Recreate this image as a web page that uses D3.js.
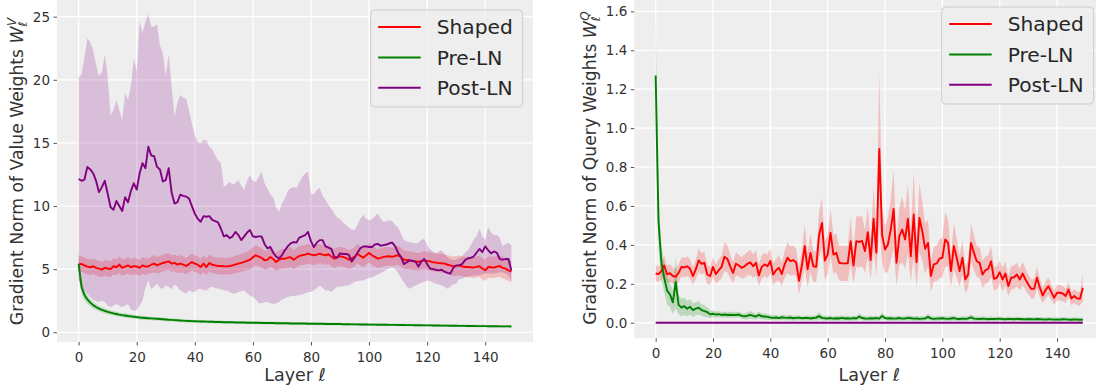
<!DOCTYPE html>
<html>
<head>
<meta charset="utf-8">
<script src="https://cdn.jsdelivr.net/npm/d3@7"></script>
<style>
  body { margin: 0; background: #fff; }
  svg { font-family: 'DejaVu Sans', sans-serif; }
</style>
</head>
<body>
<svg id="chart" width="1096" height="387"></svg>
<script>
// --- Data (one value per layer 0..149) ---
const seriesNames = ['Shaped', 'Pre-LN', 'Post-LN'];
const xTicks = [0, 20, 40, 60, 80, 100, 120, 140];
const yTicksV = [0, 5, 10, 15, 20, 25];
const yTicksQ = [0, 0.2, 0.4, 0.6, 0.8, 1.0, 1.2, 1.4, 1.6];

// Value weights: Shaped
const shapedV = [
  5.38, 5.42, 5.3, 5.2, 5.15, 5.23, 5.1, 5.04, 4.96, 5.1,
  5.05, 5.0, 5.23, 5.15, 5.36, 5.1, 5.2, 5.3, 5.15, 5.25,
  5.2, 5.1, 5.3, 5.2, 5.23, 5.35, 5.44, 5.3, 5.4, 5.49,
  5.55, 5.62, 5.44, 5.5, 5.36, 5.44, 5.35, 5.25, 5.4, 5.57,
  5.44, 5.35, 5.17, 5.44, 5.17, 5.49, 5.35, 5.3, 5.25, 5.25,
  5.23, 5.22, 5.25, 5.3, 5.38, 5.44, 5.5, 5.57, 5.65, 5.75,
  5.95, 6.1, 6.0, 5.9, 5.7, 5.75, 5.97, 5.8, 5.57, 5.75,
  5.83, 5.83, 5.9, 5.95, 5.75, 5.9, 6.05, 6.1, 6.15, 6.23,
  6.15, 6.1, 6.15, 6.23, 6.15, 6.1, 6.18, 6.0, 5.83, 5.95,
  6.02, 5.97, 5.9, 5.75, 5.85, 5.97, 6.23, 6.05, 5.91, 6.1,
  6.28, 6.1, 5.97, 5.83, 5.9, 5.97, 6.0, 6.02, 5.97, 6.05,
  6.1, 5.95, 5.75, 5.72, 5.7, 5.65, 5.62, 5.57, 5.65, 5.7,
  5.65, 5.62, 5.55, 5.52, 5.49, 5.47, 5.44, 5.35, 5.3, 5.23,
  5.26, 5.3, 5.22, 5.17, 5.17, 5.15, 5.12, 5.18, 5.23, 5.05,
  4.91, 5.17, 5.15, 5.12, 5.2, 5.25, 5.1, 5.04, 4.9, 4.8
];
const shapedVStd = [
  0.65, 0.62, 0.6, 0.62, 0.64, 0.6, 0.62, 0.63, 0.6, 0.62,
  0.64, 0.62, 0.65, 0.63, 0.66, 0.64, 0.62, 0.65, 0.64, 0.66,
  0.65, 0.63, 0.66, 0.64, 0.62, 0.66, 0.68, 0.65, 0.66, 0.67,
  0.68, 0.66, 0.65, 0.67, 0.66, 0.68, 0.66, 0.65, 0.67, 0.68,
  0.66, 0.65, 0.64, 0.66, 0.65, 0.67, 0.66, 0.65, 0.66, 0.67,
  0.66, 0.65, 0.67, 0.68, 0.68, 0.7, 0.7, 0.72, 0.74, 0.75,
  0.78, 0.8, 0.78, 0.76, 0.74, 0.75, 0.76, 0.75, 0.74, 0.75,
  0.76, 0.77, 0.78, 0.78, 0.76, 0.77, 0.78, 0.78, 0.78, 0.79,
  0.78, 0.77, 0.78, 0.77, 0.76, 0.76, 0.77, 0.76, 0.75, 0.76,
  0.76, 0.75, 0.74, 0.74, 0.75, 0.76, 0.77, 0.76, 0.75, 0.76,
  0.77, 0.76, 0.75, 0.74, 0.74, 0.75, 0.75, 0.74, 0.74, 0.75,
  0.75, 0.74, 0.73, 0.72, 0.72, 0.71, 0.7, 0.7, 0.7, 0.71,
  0.72, 0.72, 0.73, 0.73, 0.74, 0.75, 0.75, 0.76, 0.77, 0.78,
  0.78, 0.79, 0.8, 0.8, 0.81, 0.82, 0.82, 0.83, 0.84, 0.84,
  0.85, 0.86, 0.86, 0.85, 0.85, 0.86, 0.86, 0.85, 0.84, 0.82
];

// Value weights: Pre-LN
const preV = [
  5.4, 3.6, 2.95, 2.6, 2.35, 2.15, 2.0, 1.88, 1.78, 1.7,
  1.62, 1.56, 1.5, 1.45, 1.4, 1.36, 1.33, 1.29, 1.26, 1.23,
  1.2, 1.17, 1.15, 1.13, 1.11, 1.1, 1.08, 1.07, 1.05, 1.03,
  1.01, 0.99, 0.98, 0.96, 0.95, 0.93, 0.92, 0.9, 0.89, 0.88,
  0.87, 0.86, 0.85, 0.85, 0.84, 0.83, 0.83, 0.82, 0.81, 0.81,
  0.8, 0.8, 0.79, 0.79, 0.78, 0.78, 0.77, 0.77, 0.76, 0.76,
  0.75, 0.75, 0.75, 0.74, 0.74, 0.73, 0.73, 0.73, 0.72, 0.72,
  0.72, 0.71, 0.71, 0.7, 0.7, 0.7, 0.69, 0.69, 0.69, 0.68,
  0.68, 0.68, 0.67, 0.67, 0.67, 0.66, 0.66, 0.66, 0.65, 0.65,
  0.65, 0.64, 0.64, 0.64, 0.63, 0.63, 0.63, 0.62, 0.62, 0.62,
  0.61, 0.61, 0.61, 0.6, 0.6, 0.6, 0.6, 0.59, 0.59, 0.59,
  0.58, 0.58, 0.58, 0.57, 0.57, 0.57, 0.56, 0.56, 0.56, 0.55,
  0.55, 0.55, 0.54, 0.54, 0.54, 0.53, 0.53, 0.53, 0.52, 0.52,
  0.52, 0.51, 0.51, 0.51, 0.5, 0.5, 0.5, 0.49, 0.49, 0.49,
  0.49, 0.48, 0.48, 0.48, 0.48, 0.47, 0.47, 0.47, 0.47, 0.46
];
const preVStd = [
  1.2, 0.55, 0.4, 0.33, 0.29, 0.26, 0.24, 0.22, 0.21, 0.2,
  0.19, 0.19, 0.18, 0.18, 0.17, 0.17, 0.17, 0.16, 0.16, 0.16,
  0.15, 0.15, 0.15, 0.15, 0.14, 0.14, 0.14, 0.14, 0.14, 0.13,
  0.13, 0.13, 0.13, 0.13, 0.13, 0.13, 0.12, 0.12, 0.12, 0.12,
  0.12, 0.12, 0.12, 0.12, 0.12, 0.12, 0.12, 0.12, 0.12, 0.12,
  0.12, 0.12, 0.11, 0.11, 0.11, 0.11, 0.11, 0.11, 0.11, 0.11,
  0.11, 0.11, 0.11, 0.11, 0.11, 0.11, 0.11, 0.11, 0.11, 0.11,
  0.11, 0.11, 0.11, 0.11, 0.11, 0.11, 0.11, 0.11, 0.11, 0.11,
  0.11, 0.11, 0.11, 0.11, 0.11, 0.11, 0.11, 0.1, 0.1, 0.1,
  0.1, 0.1, 0.1, 0.1, 0.1, 0.1, 0.1, 0.1, 0.1, 0.1,
  0.1, 0.1, 0.1, 0.1, 0.1, 0.1, 0.1, 0.1, 0.1, 0.1,
  0.1, 0.1, 0.1, 0.1, 0.1, 0.1, 0.1, 0.1, 0.1, 0.1,
  0.1, 0.1, 0.1, 0.1, 0.1, 0.1, 0.1, 0.1, 0.1, 0.1,
  0.1, 0.1, 0.1, 0.1, 0.1, 0.1, 0.1, 0.1, 0.1, 0.1,
  0.1, 0.1, 0.1, 0.1, 0.1, 0.1, 0.1, 0.1, 0.1, 0.1
];

// Value weights: Post-LN (mean, lower and upper edge of the band)
const postV = [
  12.14, 12.0, 12.1, 13.1, 12.9, 12.6, 12.0, 11.1, 11.5, 12.0,
  11.0, 9.9, 9.7, 10.4, 10.0, 9.6, 10.7, 10.3, 11.2, 11.8,
  11.3, 12.6, 13.4, 13.0, 14.7, 14.0, 13.95, 13.1, 12.9, 11.95,
  12.06, 13.0, 11.1, 10.2, 10.3, 10.9, 10.8, 10.75, 10.6, 10.0,
  9.4, 9.0, 8.75, 9.2, 9.15, 9.2, 8.9, 8.8, 8.7, 8.2,
  7.6, 7.7, 7.45, 7.6, 7.95, 7.7, 7.3, 7.6, 7.9, 8.1,
  7.6, 7.55, 7.6, 7.6, 7.0, 6.65, 6.76, 6.3, 6.0, 5.85,
  6.1, 6.5, 6.8, 7.05, 7.15, 7.1, 7.5, 7.6, 7.7, 7.95,
  7.2, 6.75, 7.1, 7.3, 7.3, 6.8, 6.7, 6.6, 6.0, 5.9,
  6.25, 6.2, 6.2, 6.15, 5.6, 5.9, 6.3, 6.65, 6.8, 6.8,
  6.75, 6.75, 6.95, 7.0, 6.85, 6.9, 6.95, 7.05, 7.1, 6.8,
  6.3, 5.95, 5.4, 5.55, 5.7, 5.65, 5.6, 5.2, 5.6, 5.8,
  5.4, 5.05, 5.0, 4.95, 4.9, 4.95, 4.8, 4.7, 4.65, 5.1,
  5.3, 5.3, 5.4, 5.7, 5.85, 5.9, 6.0, 6.3, 6.6, 6.35,
  6.8, 6.5, 6.25, 6.4, 6.3, 5.8, 5.75, 5.8, 5.8, 4.9
];
const postVLo = [
  4.1, 3.8, 3.3, 3.05, 2.8, 2.55, 2.45, 2.4, 2.5, 2.4,
  2.1, 2.0, 2.1, 2.25, 2.1, 2.0, 2.1, 2.25, 1.8, 1.7,
  1.75, 2.1, 2.5, 3.5, 4.1, 3.4, 3.6, 3.85, 3.5, 3.45,
  3.7, 3.6, 3.4, 3.8, 3.6, 3.3, 3.2, 3.05, 3.3, 3.2,
  3.2, 3.4, 3.45, 3.35, 3.3, 3.5, 3.6, 3.5, 3.45, 3.4,
  3.3, 3.3, 3.2, 3.05, 3.1, 3.2, 3.25, 3.3, 3.1, 2.9,
  2.8, 2.6, 2.3, 2.3, 2.4, 2.4, 2.3, 2.25, 2.3, 2.4,
  2.6, 2.7, 2.8, 2.85, 2.9, 2.9, 2.95, 3.0, 3.1, 3.2,
  3.2, 3.3, 3.5, 3.7, 3.5, 3.3, 3.3, 3.2, 3.4, 3.6,
  3.6, 3.65, 3.7, 3.7, 3.85, 4.0, 4.05, 4.1, 4.1, 4.2,
  4.3, 4.35, 4.45, 4.6, 4.7, 4.8, 4.95, 5.05, 5.15, 5.0,
  4.7, 4.3, 3.95, 3.6, 3.45, 3.6, 3.7, 3.8, 3.95, 4.0,
  4.1, 4.05, 3.95, 3.85, 3.8, 3.7, 3.6, 3.45, 3.6, 3.8,
  3.85, 4.2, 4.25, 4.35, 4.4, 4.45, 4.5, 4.5, 4.55, 4.6,
  4.65, 4.65, 4.65, 4.65, 4.7, 4.75, 4.75, 4.65, 4.5, 4.1
];
const postVHi = [
  20.2, 20.4, 21.8, 23.3, 23.0, 22.3, 21.2, 20.3, 20.6, 22.0,
  20.3, 17.2, 17.6, 18.4, 17.6, 16.8, 18.95, 18.4, 19.5, 21.7,
  20.7, 24.6, 23.7, 24.6, 25.2, 24.2, 24.2, 24.4, 22.7, 22.1,
  20.3, 22.0, 19.6, 17.1, 18.2, 18.8, 18.6, 18.5, 17.6, 16.5,
  15.6, 15.1, 14.98, 15.24, 15.2, 14.7, 14.5, 14.0, 13.6, 13.4,
  11.5, 11.7, 11.9, 11.7, 11.8, 12.06, 11.6, 11.27, 12.0, 12.46,
  12.0, 11.9, 12.3, 12.72, 11.8, 11.4, 10.9, 10.7, 9.9, 9.54,
  10.2, 10.6, 11.2, 11.4, 11.5, 11.4, 11.9, 12.3, 12.6, 12.72,
  11.0, 10.9, 11.3, 11.4, 10.8, 10.5, 10.1, 9.8, 9.4, 9.1,
  9.0, 8.7, 8.5, 8.3, 8.15, 8.1, 8.5, 9.0, 9.3, 9.0,
  8.9, 8.95, 9.2, 9.4, 9.0, 8.75, 8.8, 8.9, 8.8, 8.5,
  8.3, 7.8, 7.3, 7.2, 7.15, 7.1, 7.05, 7.1, 7.3, 7.4,
  6.9, 6.6, 6.4, 6.25, 6.4, 6.5, 6.2, 5.95, 5.8, 5.7,
  5.75, 5.9, 6.0, 6.3, 6.5, 6.9, 7.3, 7.6, 8.2, 7.6,
  7.3, 8.35, 7.9, 7.7, 7.7, 7.5, 6.8, 7.0, 7.1, 6.9
];

// Query weights: Shaped
const shapedQ = [
  0.253, 0.25, 0.265, 0.294, 0.248, 0.255, 0.24, 0.236, 0.256, 0.287,
  0.284, 0.29, 0.277, 0.24, 0.274, 0.32, 0.303, 0.308, 0.248, 0.24,
  0.287, 0.25, 0.27, 0.287, 0.339, 0.328, 0.29, 0.256, 0.303, 0.294,
  0.282, 0.29, 0.303, 0.31, 0.29, 0.308, 0.243, 0.287, 0.3, 0.29,
  0.317, 0.248, 0.27, 0.282, 0.25, 0.3, 0.334, 0.317, 0.322, 0.31,
  0.215, 0.294, 0.394, 0.274, 0.359, 0.29, 0.287, 0.45, 0.513, 0.32,
  0.35, 0.462, 0.35, 0.359, 0.308, 0.305, 0.305, 0.305, 0.419, 0.294,
  0.419, 0.415, 0.42, 0.368, 0.465, 0.322, 0.534, 0.36, 0.893, 0.448,
  0.376, 0.402, 0.479, 0.585, 0.308, 0.445, 0.479, 0.428, 0.534, 0.342,
  0.556, 0.311, 0.539, 0.47, 0.38, 0.41, 0.24, 0.3, 0.305, 0.329,
  0.334, 0.428, 0.41, 0.265, 0.394, 0.334, 0.265, 0.334, 0.222, 0.248,
  0.41, 0.36, 0.316, 0.308, 0.248, 0.27, 0.277, 0.316, 0.226, 0.231,
  0.26, 0.222, 0.253, 0.188, 0.231, 0.234, 0.248, 0.222, 0.253, 0.222,
  0.197, 0.174, 0.174, 0.231, 0.18, 0.14, 0.168, 0.188, 0.157, 0.128,
  0.154, 0.154, 0.15, 0.137, 0.171, 0.125, 0.137, 0.125, 0.123, 0.18
];
const shapedQStd = [
  0.04, 0.04, 0.045, 0.05, 0.045, 0.045, 0.04, 0.04, 0.045, 0.05,
  0.05, 0.05, 0.05, 0.045, 0.05, 0.06, 0.055, 0.055, 0.05, 0.045,
  0.05, 0.05, 0.055, 0.06, 0.075, 0.07, 0.06, 0.055, 0.06, 0.055,
  0.055, 0.06, 0.06, 0.065, 0.06, 0.065, 0.055, 0.06, 0.06, 0.06,
  0.065, 0.055, 0.06, 0.065, 0.06, 0.07, 0.08, 0.075, 0.075, 0.07,
  0.07, 0.08, 0.11, 0.09, 0.1, 0.08, 0.08, 0.12, 0.13, 0.1,
  0.1, 0.12, 0.1, 0.1, 0.09, 0.09, 0.09, 0.09, 0.12, 0.09,
  0.13, 0.13, 0.13, 0.11, 0.13, 0.1, 0.16, 0.12, 0.4, 0.14,
  0.12, 0.14, 0.16, 0.2, 0.12, 0.15, 0.17, 0.15, 0.18, 0.13,
  0.22, 0.13, 0.18, 0.15, 0.13, 0.12, 0.08, 0.09, 0.09, 0.1,
  0.1, 0.14, 0.12, 0.08, 0.12, 0.1, 0.08, 0.09, 0.07, 0.07,
  0.1, 0.09, 0.08, 0.08, 0.07, 0.07, 0.07, 0.08, 0.06, 0.06,
  0.06, 0.06, 0.06, 0.05, 0.06, 0.06, 0.06, 0.055, 0.06, 0.055,
  0.05, 0.05, 0.05, 0.055, 0.05, 0.04, 0.045, 0.045, 0.04, 0.035,
  0.04, 0.04, 0.04, 0.035, 0.04, 0.035, 0.035, 0.035, 0.035, 0.07
];

// Query weights: Pre-LN
const preQ = [
  1.27, 0.52, 0.31, 0.23, 0.165, 0.145, 0.105, 0.209, 0.092, 0.078,
  0.085, 0.072, 0.082, 0.065, 0.072, 0.077, 0.065, 0.06, 0.055, 0.043,
  0.046, 0.042, 0.044, 0.04, 0.042, 0.04, 0.041, 0.04, 0.04, 0.042,
  0.035, 0.033, 0.036, 0.04, 0.035, 0.032, 0.04, 0.033, 0.032, 0.03,
  0.027, 0.025, 0.027, 0.024, 0.028, 0.026, 0.025, 0.027, 0.023, 0.025,
  0.026, 0.023, 0.024, 0.025, 0.022, 0.024, 0.026, 0.034, 0.025, 0.023,
  0.022, 0.024, 0.021, 0.023, 0.022, 0.025, 0.022, 0.023, 0.021, 0.024,
  0.022, 0.032, 0.024, 0.022, 0.021, 0.023, 0.022, 0.024, 0.021, 0.035,
  0.024, 0.022, 0.023, 0.021, 0.022, 0.024, 0.021, 0.022, 0.025, 0.023,
  0.021, 0.022, 0.02, 0.021, 0.022, 0.03, 0.022, 0.02, 0.021, 0.022,
  0.023, 0.021, 0.02, 0.022, 0.024, 0.02, 0.019, 0.021, 0.02, 0.022,
  0.028, 0.021, 0.02, 0.019, 0.021, 0.02, 0.018, 0.02, 0.019, 0.02,
  0.021, 0.019, 0.018, 0.02, 0.019, 0.018, 0.02, 0.019, 0.018, 0.017,
  0.019, 0.018, 0.017, 0.019, 0.018, 0.017, 0.016, 0.018, 0.017, 0.016,
  0.017, 0.016, 0.018, 0.017, 0.016, 0.015, 0.017, 0.016, 0.015, 0.016
];
const preQStd = [
  0.33, 0.13, 0.09, 0.075, 0.07, 0.065, 0.06, 0.135, 0.05, 0.045,
  0.045, 0.04, 0.04, 0.035, 0.035, 0.035, 0.03, 0.03, 0.025, 0.02,
  0.018, 0.016, 0.016, 0.015, 0.015, 0.016, 0.015, 0.015, 0.016, 0.015,
  0.015, 0.016, 0.018, 0.02, 0.017, 0.015, 0.018, 0.016, 0.015, 0.015,
  0.014, 0.013, 0.014, 0.013, 0.014, 0.013, 0.013, 0.014, 0.013, 0.013,
  0.013, 0.012, 0.013, 0.013, 0.012, 0.013, 0.014, 0.02, 0.014, 0.013,
  0.012, 0.013, 0.012, 0.013, 0.012, 0.013, 0.012, 0.013, 0.012, 0.013,
  0.012, 0.017, 0.013, 0.012, 0.012, 0.013, 0.012, 0.013, 0.012, 0.018,
  0.013, 0.012, 0.013, 0.012, 0.012, 0.013, 0.012, 0.012, 0.014, 0.013,
  0.012, 0.012, 0.012, 0.012, 0.012, 0.016, 0.012, 0.012, 0.012, 0.012,
  0.013, 0.012, 0.012, 0.012, 0.013, 0.012, 0.012, 0.012, 0.012, 0.012,
  0.015, 0.012, 0.012, 0.012, 0.012, 0.012, 0.011, 0.012, 0.011, 0.012,
  0.012, 0.011, 0.011, 0.012, 0.011, 0.011, 0.012, 0.011, 0.011, 0.011,
  0.011, 0.011, 0.011, 0.011, 0.011, 0.011, 0.011, 0.011, 0.011, 0.011,
  0.011, 0.011, 0.011, 0.011, 0.011, 0.011, 0.011, 0.011, 0.011, 0.011
];

// Query weights: Post-LN (flat at zero)
const postQ = [
  0, 0, 0, 0, 0, 0, 0, 0, 0, 0,
  0, 0, 0, 0, 0, 0, 0, 0, 0, 0,
  0, 0, 0, 0, 0, 0, 0, 0, 0, 0,
  0, 0, 0, 0, 0, 0, 0, 0, 0, 0,
  0, 0, 0, 0, 0, 0, 0, 0, 0, 0,
  0, 0, 0, 0, 0, 0, 0, 0, 0, 0,
  0, 0, 0, 0, 0, 0, 0, 0, 0, 0,
  0, 0, 0, 0, 0, 0, 0, 0, 0, 0,
  0, 0, 0, 0, 0, 0, 0, 0, 0, 0,
  0, 0, 0, 0, 0, 0, 0, 0, 0, 0,
  0, 0, 0, 0, 0, 0, 0, 0, 0, 0,
  0, 0, 0, 0, 0, 0, 0, 0, 0, 0,
  0, 0, 0, 0, 0, 0, 0, 0, 0, 0,
  0, 0, 0, 0, 0, 0, 0, 0, 0, 0,
  0, 0, 0, 0, 0, 0, 0, 0, 0, 0
];

const colors = { 'Shaped': '#ff0000', 'Pre-LN': '#008000', 'Post-LN': '#800080' };
const svg = d3.select('#chart');

const minus = (m, s) => m.map((v, i) => v - s[i]);
const plus = (m, s) => m.map((v, i) => v + s[i]);

function drawPanel(opt) {
    const x = d3.scaleLinear().domain([-7.45, 156.45]).range(opt.xRange);
    const y = d3.scaleLinear().domain(opt.yDomain).range(opt.yRange);
    const [left, right] = opt.xRange;
    const [bottom, top] = opt.yRange;
    const g = svg.append('g');

    // background
    g.append('rect')
        .attr('x', left).attr('y', top)
        .attr('width', right - left).attr('height', bottom - top)
        .attr('fill', '#eeeeee');

    // grid
    g.selectAll('.gx').data(xTicks).join('line')
        .attr('x1', d => x(d)).attr('x2', d => x(d))
        .attr('y1', top).attr('y2', bottom)
        .attr('stroke', '#fff').attr('stroke-width', 1.3);
    g.selectAll('.gy').data(opt.yTicks).join('line')
        .attr('x1', left).attr('x2', right)
        .attr('y1', d => y(d)).attr('y2', d => y(d))
        .attr('stroke', '#fff').attr('stroke-width', 1.3);

    // bands first, then lines (matplotlib zorder)
    const area = d3.area()
        .x((d, i) => x(i))
        .y0(d => y(d[0]))
        .y1(d => y(d[1]));
    for (const s of opt.series) {
        if (!s.lo) continue;
        g.append('path')
            .datum(s.lo.map((v, i) => [v, s.hi[i]]))
            .attr('d', area)
            .attr('fill', colors[s.name])
            .attr('fill-opacity', 0.2);
    }
    const line = d3.line().x((d, i) => x(i)).y(d => y(d));
    for (const s of opt.series) {
        g.append('path')
            .datum(s.mean)
            .attr('d', line)
            .attr('fill', 'none')
            .attr('stroke', colors[s.name])
            .attr('stroke-width', 1.9)
            .attr('stroke-linejoin', 'round');
    }

    // axes
    const xAxis = g.append('g')
        .attr('transform', `translate(0,${bottom})`)
        .call(d3.axisBottom(x).tickValues(xTicks).tickSize(3.5).tickPadding(6.5));
    const yAxis = g.append('g')
        .attr('transform', `translate(${left},0)`)
        .call(d3.axisLeft(y).tickValues(opt.yTicks).tickFormat(opt.tickFormat).tickSize(3.5).tickPadding(3.5));
    for (const ax of [xAxis, yAxis]) {
        ax.select('.domain').remove();
        ax.selectAll('.tick line').attr('stroke', '#555');
        ax.selectAll('text').attr('fill', '#333').attr('font-size', 13.5)
            .attr('font-family', "'DejaVu Sans', sans-serif");
    }

    // x label
    const xl = g.append('text')
        .attr('x', (left + right) / 2).attr('y', 380.5)
        .attr('text-anchor', 'middle')
        .attr('font-size', 17.5).attr('fill', '#333');
    xl.append('tspan').text('Layer ');
    xl.append('tspan').attr('font-style', 'italic').text('ℓ');

    // y label with W_ℓ^X
    const yl = g.append('text')
        .attr('transform', `translate(${opt.yLabelX},${(top + bottom) / 2 + 1}) rotate(-90)`)
        .attr('text-anchor', 'middle')
        .attr('font-size', 17.2).attr('fill', '#333');
    yl.append('tspan').text(opt.yLabel + ' ');
    yl.append('tspan').attr('font-style', 'italic').text('W');
    yl.append('tspan').attr('font-style', 'italic').attr('font-size', 12).attr('dy', 4).text('ℓ');
    yl.append('tspan').attr('font-style', 'italic').attr('font-size', 12)
        .attr('dx', -4.5).attr('dy', -11.5).text(opt.sup);

    // legend
    const lg = g.append('g').attr('transform', `translate(${opt.legend[0]},${opt.legend[1]})`);
    lg.append('rect')
        .attr('x', 0).attr('y', 0).attr('width', 152).attr('height', 97)
        .attr('rx', 4)
        .attr('fill', '#eeeeee').attr('fill-opacity', 0.8)
        .attr('stroke', '#cccccc').attr('stroke-width', 1);
    seriesNames.forEach((name, i) => {
        const cy = 17 + i * 30.4;
        lg.append('line')
            .attr('x1', 7.5).attr('x2', 50).attr('y1', cy).attr('y2', cy)
            .attr('stroke', colors[name]).attr('stroke-width', 2);
        lg.append('text')
            .attr('x', 66).attr('y', cy + 7.3)
            .attr('font-size', 20.2).attr('fill', '#262626')
            .text(name);
    });
}

drawPanel({
    xRange: [57, 533],
    yDomain: [-0.77, 26.4],
    yRange: [342, -1],
    yTicks: yTicksV,
    tickFormat: d3.format('d'),
    yLabel: 'Gradient Norm of Value Weights',
    sup: 'V',
    yLabelX: 23,
    legend: [370.7, 10],
    series: [
        { name: 'Shaped', mean: shapedV, lo: minus(shapedV, shapedVStd), hi: plus(shapedV, shapedVStd) },
        { name: 'Pre-LN', mean: preV, lo: minus(preV, preVStd), hi: plus(preV, preVStd) },
        { name: 'Post-LN', mean: postV, lo: postVLo, hi: postVHi }
    ]
});

drawPanel({
    xRange: [634.3, 1104.2],
    yDomain: [-0.08, 1.68],
    yRange: [338.3, -4.2],
    yTicks: yTicksQ,
    tickFormat: d3.format('.1f'),
    yLabel: 'Gradient Norm of Query Weights',
    sup: 'Q',
    yLabelX: 596,
    legend: [941.7, 7],
    series: [
        { name: 'Shaped', mean: shapedQ, lo: minus(shapedQ, shapedQStd), hi: plus(shapedQ, shapedQStd) },
        { name: 'Pre-LN', mean: preQ, lo: minus(preQ, preQStd), hi: plus(preQ, preQStd) },
        { name: 'Post-LN', mean: postQ }
    ]
});
</script>
</body>
</html>
